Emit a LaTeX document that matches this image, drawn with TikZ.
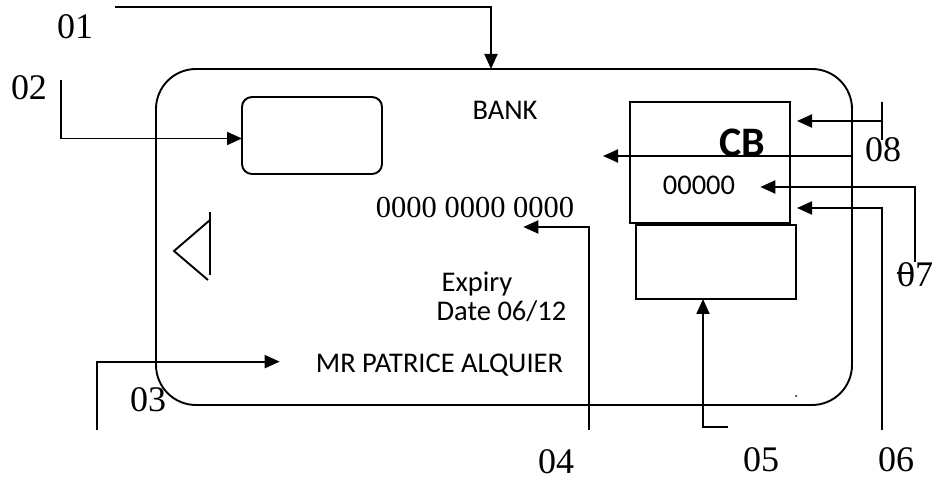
\documentclass[tikz,border=0pt]{standalone}
\usepackage{fontspec}
\setmainfont{Liberation Serif}
\newfontfamily\cardfont{Carlito}
\usetikzlibrary{arrows.meta}

\begin{document}
\begin{tikzpicture}[x=1pt,y=-1pt,
        ptr/.style={-{Triangle[length=15pt,width=13pt]}, line width=1.9pt},
        lbl/.style={font=\fontsize{36}{40}\selectfont, inner sep=0pt},
        txt/.style={font=\cardfont\fontsize{28.5}{32}\selectfont, inner sep=0pt},
        box/.style={draw, line width=1.9pt, inner sep=0pt, outer sep=0pt}]
        \useasboundingbox (0,0) rectangle (938,481);
        % the card
        \node [box, rounded corners=40pt, minimum width=696pt, minimum height=336pt] (card) at (504,237) {};
        \node [box, rounded corners=10pt, minimum width=140pt, minimum height=77pt] (chip) at (312,135.5) {};
        \node [box, minimum width=160pt, minimum height=121pt] (cbbox) at (710,162.5) {};
        \node [box, minimum width=160pt, minimum height=74pt] (strip) at (716,262) {};
        \draw [line width=1.9pt] (210,212) -- (210,275);
        \draw [line width=1.9pt] (210,220) -- (174,251) -- (208,280);
        \fill (796,396) circle (1pt);
        % card texts
        \node [txt] (bank) at (505,110.5) {BANK};
        \node [inner sep=0pt, font=\fontsize{30.5}{34}\selectfont] (num) at (475,207.5) {0000 0000 0000};
        \node [txt, font=\cardfont\bfseries\fontsize{42}{46}\selectfont] (cb) at (742,143) {CB};
        \node [txt] (code) at (699,185) {00000};
        \node [txt, anchor=base] (expiry) at (477,292) {Expiry};
        \node [txt, anchor=base] (date) at (501.5,320) {Date 06/12};
        \node [txt, anchor=base] (name) at (439.5,373) {MR PATRICE ALQUIER};
        % numbers
        \node [lbl] (l01) at (75,27) {01};
        \node [lbl] (l02) at (29,88) {02};
        \node [lbl] (l03) at (148,400) {03};
        \node [lbl] (l04) at (556,462) {04};
        \node [lbl] (l05) at (761,460) {05};
        \node [lbl] (l06) at (896,460) {06};
        \node [lbl] (l07) at (915,275) {07};
        \node [lbl] (l08) at (883,150) {08};
        \draw [line width=1.4pt] (897,273) -- (912,273);
        % pointers
        \coordinate (s01) at (115,7);
        \coordinate (s02) at (61,80);
        \coordinate (s03) at (97,430);
        \coordinate (s04) at (589,430);
        \coordinate (s05) at (728,427);
        \coordinate (s06) at (882,430);
        \coordinate (s07) at (915,262);
        \coordinate (s08) at (882,102);
        \coordinate (e08) at (882,140);
        \coordinate (t08) at (603,156);
        \draw [ptr] (s01) -| ([xshift=-13pt]card.north);
        \draw [ptr] (s02) |- ([yshift=-3pt]chip.west);
        \draw [ptr] (s03) |- ([xshift=-36pt,yshift=4pt]name.west);
        \draw [ptr] (s04) |- ([xshift=-51pt,yshift=-9pt]num.south east);
        \draw [ptr] (s05) -| ([xshift=-13pt]strip.south);
        \draw [ptr] (s06) |- ([xshift=7pt,yshift=15pt]cbbox.south east);
        \draw [ptr] (s07) |- ([xshift=25pt,yshift=-2pt]code.east);
        \draw [line width=1.9pt] (s08) -- (e08);
        \draw [ptr] ([yshift=-19pt]s08) -- ([xshift=7pt,yshift=-19pt]cbbox.north east);
        \draw [ptr] (t08 -| card.east) -- (t08);
    \end{tikzpicture}
\end{document}
